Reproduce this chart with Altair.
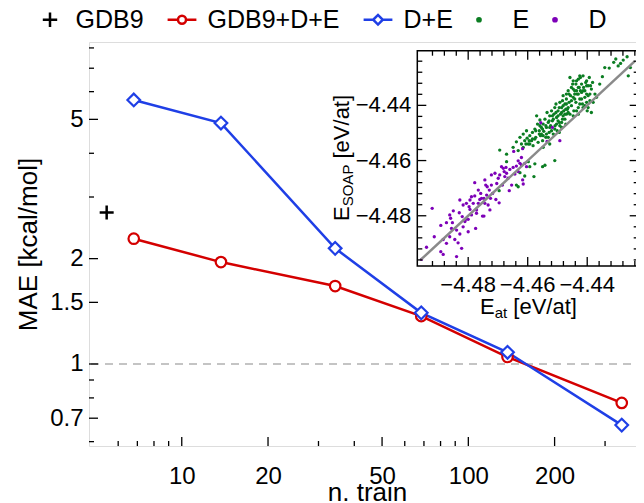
import altair as alt
import pandas as pd

FONT = "Liberation Sans"
RED = "#d40000"
BLUE = "#1f3fe6"
GREEN = "#0b7d22"
PURPLE = "#7d00b8"
GRAY = "#8a8a8a"

# ---------------- main panel data ----------------
n_train = [6.8, 13.7, 34.3, 68.5, 137.0, 343.0]
mae_gdb9_de = [2.28, 1.955, 1.67, 1.37, 1.047, 0.774]
mae_de = [5.68, 4.88, 2.14, 1.40, 1.08, 0.669]
gdb9_n = [5.47]
gdb9_mae = [2.71]
ref_mae = [1.0]

x_major = [10, 20, 50, 100, 200]
x_minor = [6, 7, 8, 9, 30, 40, 60, 70, 80, 90, 300, 400]
y_major = [0.7, 1, 1.5, 2, 5]
y_minor = [0.6, 0.8, 0.9, 3, 4, 6, 7, 8]

legend_names = ["GDB9", "GDB9+D+E", "D+E", "E", "D"]

# ---------------- inset data ----------------
E_at_E = [-4.4696, -4.4671, -4.4638, -4.4632, -4.4626, -4.4610, -4.4598, -4.4593, -4.4579, -4.4576,
          -4.4550, -4.4542, -4.4509, -4.4694, -4.4671, -4.4649, -4.4638, -4.4626, -4.4621, -4.4615,
          -4.4610, -4.4604, -4.4602, -4.4598, -4.4593, -4.4587, -4.4584, -4.4582, -4.4576, -4.4573,
          -4.4570, -4.4567, -4.4565, -4.4561, -4.4559, -4.4557, -4.4554, -4.4550, -4.4548, -4.4546,
          -4.4542, -4.4539, -4.4537, -4.4535, -4.4531, -4.4528, -4.4526, -4.4523, -4.4520, -4.4517,
          -4.4514, -4.4512, -4.4509, -4.4508, -4.4505, -4.4503, -4.4501, -4.4498, -4.4494, -4.4492,
          -4.4490, -4.4486, -4.4483, -4.4481, -4.4479, -4.4475, -4.4472, -4.4470, -4.4467, -4.4464,
          -4.4461, -4.4458, -4.4456, -4.4453, -4.4449, -4.4447, -4.4445, -4.4442, -4.4438, -4.4436,
          -4.4434, -4.4430, -4.4427, -4.4425, -4.4423, -4.4419, -4.4416, -4.4414, -4.4412, -4.4408,
          -4.4405, -4.4402, -4.4400, -4.4397, -4.4393, -4.4391, -4.4386, -4.4382, -4.4374, -4.4369,
          -4.4358, -4.4349, -4.4341, -4.4326, -4.4311, -4.4304, -4.4296, -4.4288, -4.4279, -4.4266,
          -4.4262, -4.4255, -4.4430, -4.4458, -4.4486, -4.4526, -4.4548, -4.4453, -4.4442, -4.4430,
          -4.4419, -4.4408, -4.4402, -4.4414, -4.4425, -4.4436, -4.4447, -4.4464, -4.4475, -4.4486,
          -4.4498, -4.4509, -4.4520, -4.4531, -4.4554, -4.4576, -4.4593, -4.4615, -4.4632, -4.4436,
          -4.4391, -4.4397, -4.4380, -4.4386, -4.4447, -4.4470, -4.4481, -4.4494, -4.4470, -4.4425,
          -4.4402, -4.4498, -4.4486, -4.4475, -4.4464, -4.4453, -4.4442, -4.4430, -4.4419, -4.4408,
          -4.4397, -4.4423, -4.4438, -4.4461, -4.4472, -4.4483, -4.4494, -4.4505, -4.4517, -4.4528,
          -4.4539, -4.4550, -4.4561, -4.4573, -4.4584, -4.4595, -4.4606, -4.4414, -4.4402, -4.4389,
          -4.4430, -4.4447, -4.4470, -4.4481, -4.4492, -4.4503, -4.4514, -4.4526, -4.4537, -4.4548,
          -4.4559]
E_soap_E = [-4.4709, -4.4604, -4.4689, -4.4695, -4.4644, -4.4656, -4.4604, -4.4622, -4.4658, -4.4612,
            -4.4622, -4.4617, -4.4600, -4.4562, -4.4577, -4.4552, -4.4532, -4.4516, -4.4540, -4.4504,
            -4.4528, -4.4492, -4.4519, -4.4540, -4.4510, -4.4528, -4.4498, -4.4546, -4.4486, -4.4516,
            -4.4438, -4.4468, -4.4534, -4.4492, -4.4453, -4.4510, -4.4480, -4.4528, -4.4468, -4.4494,
            -4.4450, -4.4516, -4.4480, -4.4426, -4.4462, -4.4498, -4.4438, -4.4474, -4.4420, -4.4456,
            -4.4504, -4.4432, -4.4408, -4.4474, -4.4395, -4.4444, -4.4492, -4.4420, -4.4462, -4.4389,
            -4.4432, -4.4408, -4.4450, -4.4365, -4.4420, -4.4395, -4.4468, -4.4377, -4.4414, -4.4347,
            -4.4389, -4.4432, -4.4365, -4.4401, -4.4323, -4.4371, -4.4420, -4.4347, -4.4389, -4.4311,
            -4.4359, -4.4408, -4.4335, -4.4377, -4.4299, -4.4353, -4.4395, -4.4293, -4.4335, -4.4371,
            -4.4317, -4.4359, -4.4420, -4.4329, -4.4299, -4.4383, -4.4341, -4.4317, -4.4359, -4.4371,
            -4.4323, -4.4296, -4.4263, -4.4265, -4.4244, -4.4232, -4.4257, -4.4248, -4.4236, -4.4224,
            -4.4293, -4.4263, -4.4432, -4.4299, -4.4480, -4.4540, -4.4552, -4.4335, -4.4377, -4.4359,
            -4.4323, -4.4347, -4.4389, -4.4408, -4.4395, -4.4420, -4.4438, -4.4426, -4.4450, -4.4426,
            -4.4456, -4.4486, -4.4492, -4.4516, -4.4504, -4.4522, -4.4540, -4.4552, -4.4564, -4.4347,
            -4.4359, -4.4408, -4.4389, -4.4426, -4.4311, -4.4359, -4.4401, -4.4498, -4.4432, -4.4293,
            -4.4329, -4.4438, -4.4462, -4.4432, -4.4408, -4.4383, -4.4359, -4.4335, -4.4377, -4.4401,
            -4.4365, -4.4347, -4.4323, -4.4359, -4.4414, -4.4383, -4.4408, -4.4426, -4.4438, -4.4456,
            -4.4474, -4.4486, -4.4504, -4.4492, -4.4522, -4.4528, -4.4540, -4.4347, -4.4311, -4.4329,
            -4.4305, -4.4341, -4.4395, -4.4438, -4.4474, -4.4468, -4.4450, -4.4480, -4.4504, -4.4510,
            -4.4474]

E_at_D = [-4.4957, -4.4940, -4.4921, -4.4914, -4.4892, -4.4892, -4.4884, -4.4884, -4.4873, -4.4862,
          -4.4859, -4.4856, -4.4853, -4.4850, -4.4845, -4.4839, -4.4834, -4.4830, -4.4828, -4.4828,
          -4.4822, -4.4820, -4.4817, -4.4811, -4.4808, -4.4806, -4.4800, -4.4797, -4.4794, -4.4794,
          -4.4789, -4.4783, -4.4778, -4.4778, -4.4775, -4.4772, -4.4772, -4.4766, -4.4761, -4.4758,
          -4.4755, -4.4752, -4.4747, -4.4747, -4.4744, -4.4741, -4.4738, -4.4736, -4.4733, -4.4729,
          -4.4727, -4.4725, -4.4722, -4.4718, -4.4710, -4.4707, -4.4699, -4.4696, -4.4694, -4.4688,
          -4.4685, -4.4682, -4.4679, -4.4677, -4.4673, -4.4671, -4.4666, -4.4662, -4.4660, -4.4654,
          -4.4649, -4.4643, -4.4638, -4.4632, -4.4626, -4.4621, -4.4617, -4.4615, -4.4610, -4.4604,
          -4.4647, -4.4632, -4.4621, -4.4617, -4.4556, -4.4517, -4.4535, -4.4492, -4.4789, -4.4766,
          -4.4744, -4.4722, -4.4704, -4.4817, -4.4800, -4.4862, -4.4839, -4.4873]
E_soap_D = [-4.4958, -4.4914, -4.4773, -4.4876, -4.4835, -4.4930, -4.4940, -4.4886, -4.4825, -4.4797,
            -4.4809, -4.4846, -4.4825, -4.4782, -4.4886, -4.4948, -4.4898, -4.4789, -4.4743, -4.4866,
            -4.4918, -4.4803, -4.4761, -4.4821, -4.4813, -4.4755, -4.4813, -4.4767, -4.4743, -4.4777,
            -4.4797, -4.4755, -4.4680, -4.4728, -4.4846, -4.4779, -4.4791, -4.4755, -4.4741, -4.4719,
            -4.4737, -4.4801, -4.4801, -4.4737, -4.4755, -4.4689, -4.4725, -4.4695, -4.4761, -4.4707,
            -4.4779, -4.4737, -4.4689, -4.4719, -4.4646, -4.4741, -4.4664, -4.4753, -4.4652, -4.4622,
            -4.4689, -4.4628, -4.4640, -4.4658, -4.4625, -4.4646, -4.4664, -4.4709, -4.4632, -4.4689,
            -4.4625, -4.4649, -4.4620, -4.4640, -4.4610, -4.4616, -4.4670, -4.4685, -4.4610, -4.4622,
            -4.4567, -4.4601, -4.4589, -4.4557, -4.4463, -4.4480, -4.4531, -4.4528, -4.4731, -4.4707,
            -4.4670, -4.4652, -4.4683, -4.4840, -4.4858, -4.4876, -4.4852, -4.4900]

diag = [-4.496, -4.424]
inset_major = [-4.48, -4.46, -4.44]
inset_minor_x = [-4.492, -4.488, -4.484, -4.476, -4.472, -4.468, -4.464, -4.456, -4.452,
                 -4.448, -4.444, -4.436, -4.432, -4.428, -4.424]
inset_minor_y = [-4.496, -4.492, -4.488, -4.484, -4.476, -4.472, -4.468, -4.464, -4.456,
                 -4.452, -4.448, -4.444, -4.436, -4.432, -4.428, -4.424]

# ---------------- layout ----------------
W, H = 556, 404
IX0, IX1, IY0, IY1 = 328.3, 549.7, 8.7, 224.0
MAJ, MIN = 9, 5

xs = alt.Scale(type="log", domain=[4.746, 413.5], nice=False)
ys = alt.Scale(type="log", domain=[0.583, 8.318], nice=False)
ixs = alt.Scale(domain=[-4.4971, -4.4227], range=[IX0, IX1], nice=False, zero=False)
iys = alt.Scale(domain=[-4.4982, -4.4202], range=[IY1, IY0], nice=False, zero=False)

x_axis = alt.Axis(values=x_major, format="~g", ticks=False, domain=False, grid=False,
                  labelFontSize=24, labelPadding=18, labelColor="black", labelFont=FONT,
                  labelFlush=False, labelOverlap=False,
                  title="n. train", titleFontSize=26, titleFontWeight="normal", titleFont=FONT,
                  titleColor="black", titlePadding=-9)
y_axis = alt.Axis(values=y_major, format="~g", ticks=False, domain=False, grid=False,
                  labelFontSize=24, labelPadding=6, labelColor="black", labelFont=FONT,
                  labelFlush=False, labelOverlap=False,
                  title="MAE [kcal/mol]", titleFontSize=26, titleFontWeight="normal", titleFont=FONT,
                  titleColor="black", titlePadding=8)

main_df = pd.DataFrame({
    "n": n_train + n_train,
    "mae": mae_gdb9_de + mae_de,
    "series": ["GDB9+D+E"] * len(n_train) + ["D+E"] * len(n_train),
})
base = alt.Chart(main_df)

dash = alt.Chart(pd.DataFrame({"v": ref_mae})).mark_rule(
    color=GRAY, strokeDash=[8, 6], strokeWidth=1.2).encode(
    y=alt.Y("v:Q", scale=ys, axis=None))

red_line = base.transform_filter(alt.datum.series == "GDB9+D+E").mark_line(
    color=RED, strokeWidth=2.5).encode(
    x=alt.X("n:Q", scale=xs, axis=x_axis), y=alt.Y("mae:Q", scale=ys, axis=y_axis))
blue_line = base.transform_filter(alt.datum.series == "D+E").mark_line(
    color=BLUE, strokeWidth=2.5).encode(
    x=alt.X("n:Q", scale=xs, axis=None), y=alt.Y("mae:Q", scale=ys, axis=None))
red_pts = base.transform_filter(alt.datum.series == "GDB9+D+E").mark_point(
    shape="circle", size=110, filled=True, fill="white", stroke=RED, strokeWidth=2.2, opacity=1).encode(
    x=alt.X("n:Q", scale=xs, axis=None), y=alt.Y("mae:Q", scale=ys, axis=None))
blue_pts = base.transform_filter(alt.datum.series == "D+E").mark_point(
    shape="diamond", size=160, filled=True, fill="white", stroke=BLUE, strokeWidth=2.2, opacity=1).encode(
    x=alt.X("n:Q", scale=xs, axis=None), y=alt.Y("mae:Q", scale=ys, axis=None))
plus = alt.Chart(pd.DataFrame({"n": gdb9_n, "mae": gdb9_mae})).mark_point(
    shape="M-1,0L1,0M0,-1L0,1", size=196, filled=False, stroke="black", strokeWidth=2.5, opacity=1).encode(
    x=alt.X("n:Q", scale=xs, axis=None), y=alt.Y("mae:Q", scale=ys, axis=None))

def xticks(vals, length):
    return alt.Chart(pd.DataFrame({"v": vals})).mark_rule(color="black", strokeWidth=1.3).encode(
        x=alt.X("v:Q", scale=xs, axis=None), y=alt.value(H), y2=alt.value(H - length))

def yticks(vals, length):
    return alt.Chart(pd.DataFrame({"v": vals})).mark_rule(color="black", strokeWidth=1.3).encode(
        y=alt.Y("v:Q", scale=ys, axis=None), x=alt.value(0), x2=alt.value(length))

# legend (built by Vega-Lite from the shape/stroke/fill scales)
LINE_CIRCLE = "M-1.8,0L-0.5,0M0.5,0L1.8,0M0.5,0A0.5,0.5,0,1,1,-0.5,0A0.5,0.5,0,1,1,0.5,0Z"
LINE_DIAMOND = "M-1.8,0L-0.6,0M0.6,0L1.8,0M-0.6,0L0,-0.6L0.6,0L0,0.6Z"
PLUS = "M-0.9,0L0.9,0M0,-0.9L0,0.9"
DOT = "M-0.8,0A0.2,0.2,0,1,1,-1.2,0A0.2,0.2,0,1,1,-0.8,0Z"
LEG = alt.Legend(orient="none", legendX=-51.5, legendY=-35, direction="horizontal", title=None,
                 labelFontSize=25, labelFont=FONT, labelColor="black", symbolSize=256,
                 symbolStrokeWidth=2.5, columnPadding=18, labelOffset=13, padding=0, symbolOffset=0,
                 labelExpr="datum.label == 'D+E' ? 'D+E    ' : (datum.label == 'E' ? 'E  ' : datum.label)")
legend_layer = alt.Chart(pd.DataFrame({"series": legend_names})).transform_filter("false").mark_point(
    opacity=1, filled=True).encode(
    shape=alt.Shape("series:N", scale=alt.Scale(domain=legend_names,
                    range=[PLUS, LINE_CIRCLE, LINE_DIAMOND, DOT, DOT]), legend=LEG),
    stroke=alt.Stroke("series:N", scale=alt.Scale(domain=legend_names,
                      range=["black", RED, BLUE, GREEN, PURPLE]), legend=LEG),
    fill=alt.Fill("series:N", scale=alt.Scale(domain=legend_names,
                  range=["white", "white", "white", GREEN, PURPLE]), legend=LEG),
)

# ---------------- inset ----------------
frame = alt.Chart(pd.DataFrame({"k": [0]})).mark_rect(
    fill="white", stroke="black", strokeWidth=1.5).encode(
    x=alt.value(IX0), x2=alt.value(IX1), y=alt.value(IY0), y2=alt.value(IY1))

scat_E = alt.Chart(pd.DataFrame({"x": E_at_E, "y": E_soap_E})).mark_circle(
    size=11, color=GREEN, opacity=1).encode(
    x=alt.X("x:Q", scale=ixs, axis=None), y=alt.Y("y:Q", scale=iys, axis=None))
scat_D = alt.Chart(pd.DataFrame({"x": E_at_D, "y": E_soap_D})).mark_circle(
    size=11, color=PURPLE, opacity=1).encode(
    x=alt.X("x:Q", scale=ixs, axis=None), y=alt.Y("y:Q", scale=iys, axis=None))
diag_line = alt.Chart(pd.DataFrame({"x": diag, "y": diag})).mark_line(
    color=GRAY, strokeWidth=2.5).encode(
    x=alt.X("x:Q", scale=ixs, axis=None), y=alt.Y("y:Q", scale=iys, axis=None))

def ixticks(vals, length):
    d = pd.DataFrame({"v": vals})
    b = alt.Chart(d).mark_rule(color="black", strokeWidth=1.3)
    bot = b.encode(x=alt.X("v:Q", scale=ixs, axis=None), y=alt.value(IY1), y2=alt.value(IY1 - length))
    top = b.encode(x=alt.X("v:Q", scale=ixs, axis=None), y=alt.value(IY0), y2=alt.value(IY0 + length))
    return [bot, top]

def iyticks(vals, length):
    d = pd.DataFrame({"v": vals})
    b = alt.Chart(d).mark_rule(color="black", strokeWidth=1.3)
    lef = b.encode(y=alt.Y("v:Q", scale=iys, axis=None), x=alt.value(IX0), x2=alt.value(IX0 + length))
    rig = b.encode(y=alt.Y("v:Q", scale=iys, axis=None), x=alt.value(IX1), x2=alt.value(IX1 - length))
    return [lef, rig]

lab_df = pd.DataFrame({"v": inset_major})
ix_labels = alt.Chart(lab_df).mark_text(font=FONT, fontSize=22, color="black", align="center",
                                        baseline="middle").encode(
    x=alt.X("v:Q", scale=ixs, axis=None), y=alt.value(IY1 + 19), text=alt.Text("v:Q", format=".2f"))
iy_labels = alt.Chart(lab_df).mark_text(font=FONT, fontSize=22, color="black", align="right",
                                        baseline="middle").encode(
    y=alt.Y("v:Q", scale=iys, axis=None), x=alt.value(IX0 - 6), text=alt.Text("v:Q", format=".2f"))

def txt(s, x, y, size, angle=0):
    props = dict(font=FONT, fontSize=size, color="black", align="left", baseline="alphabetic")
    if angle:
        props["angle"] = angle
    return alt.Chart(pd.DataFrame({"t": [s]})).mark_text(**props).encode(
        x=alt.value(x), y=alt.value(y), text="t:N")

# x title of inset: E_at [eV/at]
xt = [txt("E", 391, 272, 22), txt("at", 405.7, 276, 15), txt("[eV/at]", 424.3, 272, 22)]
# y title of inset: E_SOAP [eV/at] (rotated)
yt = [txt("E", 260, 179, 22, 270), txt("SOAP", 264, 164.3, 15, 270), txt("[eV/at]", 260, 116.5, 22, 270)]

layers = [red_line, dash, blue_line, red_pts, blue_pts, plus,
          xticks(x_major, MAJ), xticks(x_minor, MIN), yticks(y_major, MAJ), yticks(y_minor, MIN),
          legend_layer,
          frame, scat_E, scat_D, diag_line,
          *ixticks(inset_major, MAJ), *ixticks(inset_minor_x, MIN),
          *iyticks(inset_major, MAJ), *iyticks(inset_minor_y, MIN),
          ix_labels, iy_labels, *xt, *yt]

chart = alt.layer(*layers).resolve_scale(x="independent", y="independent").properties(
    width=W, height=H,
    padding={"left": 81, "top": 34, "right": -9, "bottom": 57},
    autosize=alt.AutoSizeParams(type="none"),
).configure_view(stroke="black", strokeWidth=1.5).configure(font=FONT)

chart.save("out.html", embed_options={"renderer": "svg", "actions": False})
